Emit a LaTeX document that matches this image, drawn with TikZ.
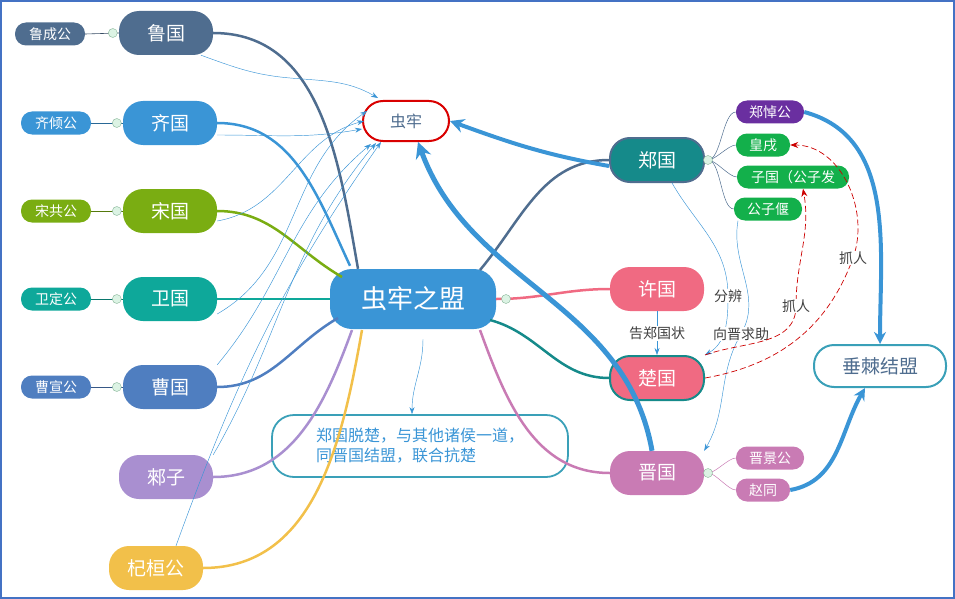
\documentclass[tikz,border=0pt]{standalone}
\usepackage{fontspec}
\newfontfamily\cjk{Noto Sans CJK SC}
\usetikzlibrary{arrows.meta}
\definecolor{lu}{HTML}{4F6D8F}
\definecolor{qi}{HTML}{3A95D6}
\definecolor{song}{HTML}{7AAD12}
\definecolor{wei}{HTML}{0EA89A}
\definecolor{cao}{HTML}{4F7EC0}
\definecolor{lai}{HTML}{A98FD0}
\definecolor{qii}{HTML}{F2C04A}
\definecolor{zheng}{HTML}{158A8A}
\definecolor{pink}{HTML}{F06A82}
\definecolor{jin}{HTML}{C97BB4}
\definecolor{green}{HTML}{13B04B}
\definecolor{purp}{HTML}{6A2FA0}
\definecolor{frame}{HTML}{4472C4}
\definecolor{tealb}{HTML}{3AA0B8}
\tikzset{
  guo/.style={rounded corners=20pt,minimum width=94pt,minimum height=44pt,text=white,font=\cjk\fontsize{19}{19}\selectfont,inner sep=0pt},
  gong/.style={rounded corners=11pt,minimum width=70pt,minimum height=23pt,text=white,font=\cjk\fontsize{14}{14}\selectfont,inner sep=2pt},
  knob/.style={circle,draw=green!60!black!50,fill=green!15,minimum size=9pt,inner sep=0pt},
  thin/.style={qi,line width=0.45pt,-{Stealth[length=7pt,width=5pt]}},
  label/.style={font=\cjk\fontsize{14}{14}\selectfont,text=black!75,fill=white,inner sep=1pt}
}
\begin{document}
\begin{tikzpicture}[x=1pt,y=-1pt]
\draw[frame,line width=2pt] (1,1) rectangle (954,598);
% left states
\node[gong,fill=lu] (lucg) at (50,34) {鲁成公};
\node[guo,fill=lu] (lu) at (166,33) {鲁国};
\node[gong,fill=qi] (qiqg) at (56,123) {齐倾公};
\node[guo,fill=qi] (qi) at (170,123) {齐国};
\node[gong,fill=song] (songg) at (56,211) {宋共公};
\node[guo,fill=song] (song) at (170,211) {宋国};
\node[gong,fill=wei] (weig) at (56,299) {卫定公};
\node[guo,fill=wei] (wei) at (170,299) {卫国};
\node[gong,fill=cao] (caog) at (56,387) {曹宣公};
\node[guo,fill=cao] (cao) at (170,387) {曹国};
\node[guo,fill=lai] (lai) at (166,477) {郲子};
\node[guo,fill=qii] (qihuan) at (156,568) {杞桓公};
\foreach \g/\n in {lucg/lu,qiqg/qi,songg/song,weig/wei,caog/cao}{
  \draw[\n!70!black,line width=0.6pt] (\g.east) -- (\n.west);
  \node[knob] at ([xshift=-6pt]\n.west) {};
}
% centre
\node[guo,fill=qi,minimum width=166pt,minimum height=60pt,rounded corners=22pt,font=\cjk\fontsize{26}{26}\selectfont] (meng) at (413,299) {虫牢之盟};
\node[guo,fill=white,draw=red!85!black,line width=2pt,minimum width=86pt,minimum height=40pt,text=lu,font=\cjk\fontsize{16}{16}\selectfont] (chl) at (406,121) {虫牢};
\node[draw=tealb,line width=1.8pt,rounded corners=22pt,minimum width=296pt,minimum height=62pt,text=qi,align=left,font=\cjk\fontsize{16}{20}\selectfont] (note) at (420,446) {郑国脱楚，与其他诸侯一道，\\同晋国结盟，联合抗楚};
% right states
\node[guo,fill=zheng,draw=lu,line width=2pt] (zheng) at (657,160) {郑国};
\node[guo,fill=pink] (xu) at (657,289) {许国};
\node[guo,fill=pink,draw=zheng,line width=2pt] (chu) at (657,378) {楚国};
\node[guo,fill=jin] (jin) at (657,473) {晋国};
\node[gong,fill=purp,minimum width=68pt] (zdg) at (770,112) {郑悼公};
\node[gong,fill=green,minimum width=54pt] (hx) at (763,145) {皇戌};
\node[gong,fill=green,minimum width=112pt] (zg) at (793,177) {子国（公子发};
\node[gong,fill=green,minimum width=68pt] (gzy) at (768,209) {公子偃};
\node[gong,fill=jin,minimum width=68pt] (jjg) at (770,458) {晋景公};
\node[gong,fill=jin,minimum width=54pt] (zt) at (763,490) {赵同};
\node[guo,fill=white,draw=tealb,line width=2pt,minimum width=132pt,minimum height=42pt,text=lu,font=\cjk\fontsize{19}{19}\selectfont] (cj) at (880,366) {垂棘结盟};
\coordinate (zk) at (708,160);
\coordinate (jk) at (708,473);
\foreach \t in {zdg,hx,zg,gzy} \draw[lu,line width=0.5pt] (zk) to[out=0,in=180,looseness=0.6] (\t.west);
\foreach \t in {jjg,zt} \draw[jin,line width=0.5pt] (jk) to[out=0,in=180,looseness=0.6] (\t.west);
\node[knob] at (zk) {};
\node[knob] at (jk) {};
% branches from centre
\draw[lu,line width=2.5pt] (lu.east) to[out=0,in=100] ([xshift=-55pt]meng.north);
\draw[qi,line width=2.5pt] (qi.east) to[out=0,in=115] ([xshift=-63pt,yshift=3pt]meng.north);
\draw[song,line width=2.5pt] (song.east) to[out=0,in=150] (342,277);
\draw[wei,line width=2.5pt] (wei.east) -- (meng.west);
\draw[cao,line width=2.5pt] (cao.east) to[out=0,in=210] (338,318);
\draw[lai,line width=2.5pt] (lai.east) to[out=0,in=250] (352,330);
\draw[qii,line width=2.5pt] (qihuan.east) to[out=0,in=260] (362,330);
\draw[lu,line width=2.5pt] (480,270) to[out=50,in=180] (zheng.west);
\draw[pink,line width=2.5pt] (meng.east) to[out=0,in=180] (xu.west);
\draw[zheng,line width=2.5pt] (490,320) to[out=-15,in=180] (chu.west);
\draw[jin,line width=2.5pt] (480,330) to[out=-70,in=180] (jin.west);
\node[knob] at (506,299) {};
% thin arrows to 虫牢
\draw[thin] ([xshift=35pt]lu.south) to[out=-20,in=175] (290,78) to[out=-5,in=150] ([xshift=-28pt,yshift=2pt]chl.north);
\draw[thin] ([yshift=-12pt]qi.east) to[out=0,in=190] ([yshift=-8pt]chl.west);
\draw[thin] ([yshift=-10pt]song.east) to[out=10,in=195] ([xshift=2pt]chl.west);
\draw[thin] ([yshift=-15pt]wei.east) to[out=30,in=215] ([xshift=5pt,yshift=10pt]chl.west);
\draw[thin] (cao.north east) to[out=50,in=220] ([xshift=-35pt,yshift=-2pt]chl.south);
\draw[thin] (lai.north east) to[out=60,in=230] ([xshift=-30pt,yshift=-1pt]chl.south);
\draw[thin] ([xshift=20pt]qihuan.north) to[out=70,in=235] ([xshift=-25pt]chl.south);
\draw[qi,line width=4pt,-{Stealth[length=14pt,width=14pt]}] ([yshift=-6pt]zheng.west) to[out=170,in=-20] (chl.east);
\draw[qi,line width=5pt,-{Stealth[length=16pt,width=16pt]}] ([xshift=-5pt]jin.north) to[out=100,in=-70] ([xshift=12pt]chl.south);
\draw[thin] ([xshift=10pt,yshift=-10pt]meng.south) to[out=-90,in=90] ([xshift=-8pt]note.north);
% right side relations
\draw[thin] (xu.south) -- node[label] {告郑国状} (chu.north);
\draw[thin] ([xshift=15pt]zheng.south) to[out=-60,in=90] (728,296) node[label] {分辨} to[out=-90,in=30] (chu.north east);
\draw[thin] ([xshift=-30pt]gzy.south) to[out=-100,in=60] (741,334) node[label] {向晋求助} to[out=-120,in=60] (jin.north east);
\draw[red!80!black,dashed,dash pattern=on 6pt off 3pt,line width=0.7pt,-{Stealth[length=8pt]}] (chu.north east) to[out=20,in=-90] (796,306) node[label] {抓人} to[out=90,in=-80] ([xshift=10pt]zg.south);
\draw[red!80!black,dashed,dash pattern=on 6pt off 3pt,line width=0.7pt,-{Stealth[length=8pt]}] (chu.east) to[out=10,in=-110] (853,258) node[label] {抓人} to[out=70,in=0] (hx.east);
\draw[qi,line width=4pt,-{Stealth[length=12pt,width=12pt]}] (zdg.east) to[out=-15,in=90] (cj.north);
\draw[qi,line width=4pt,-{Stealth[length=12pt,width=12pt]}] (zt.east) to[out=10,in=-120] ([xshift=-15pt]cj.south);
\end{tikzpicture}
\end{document}
